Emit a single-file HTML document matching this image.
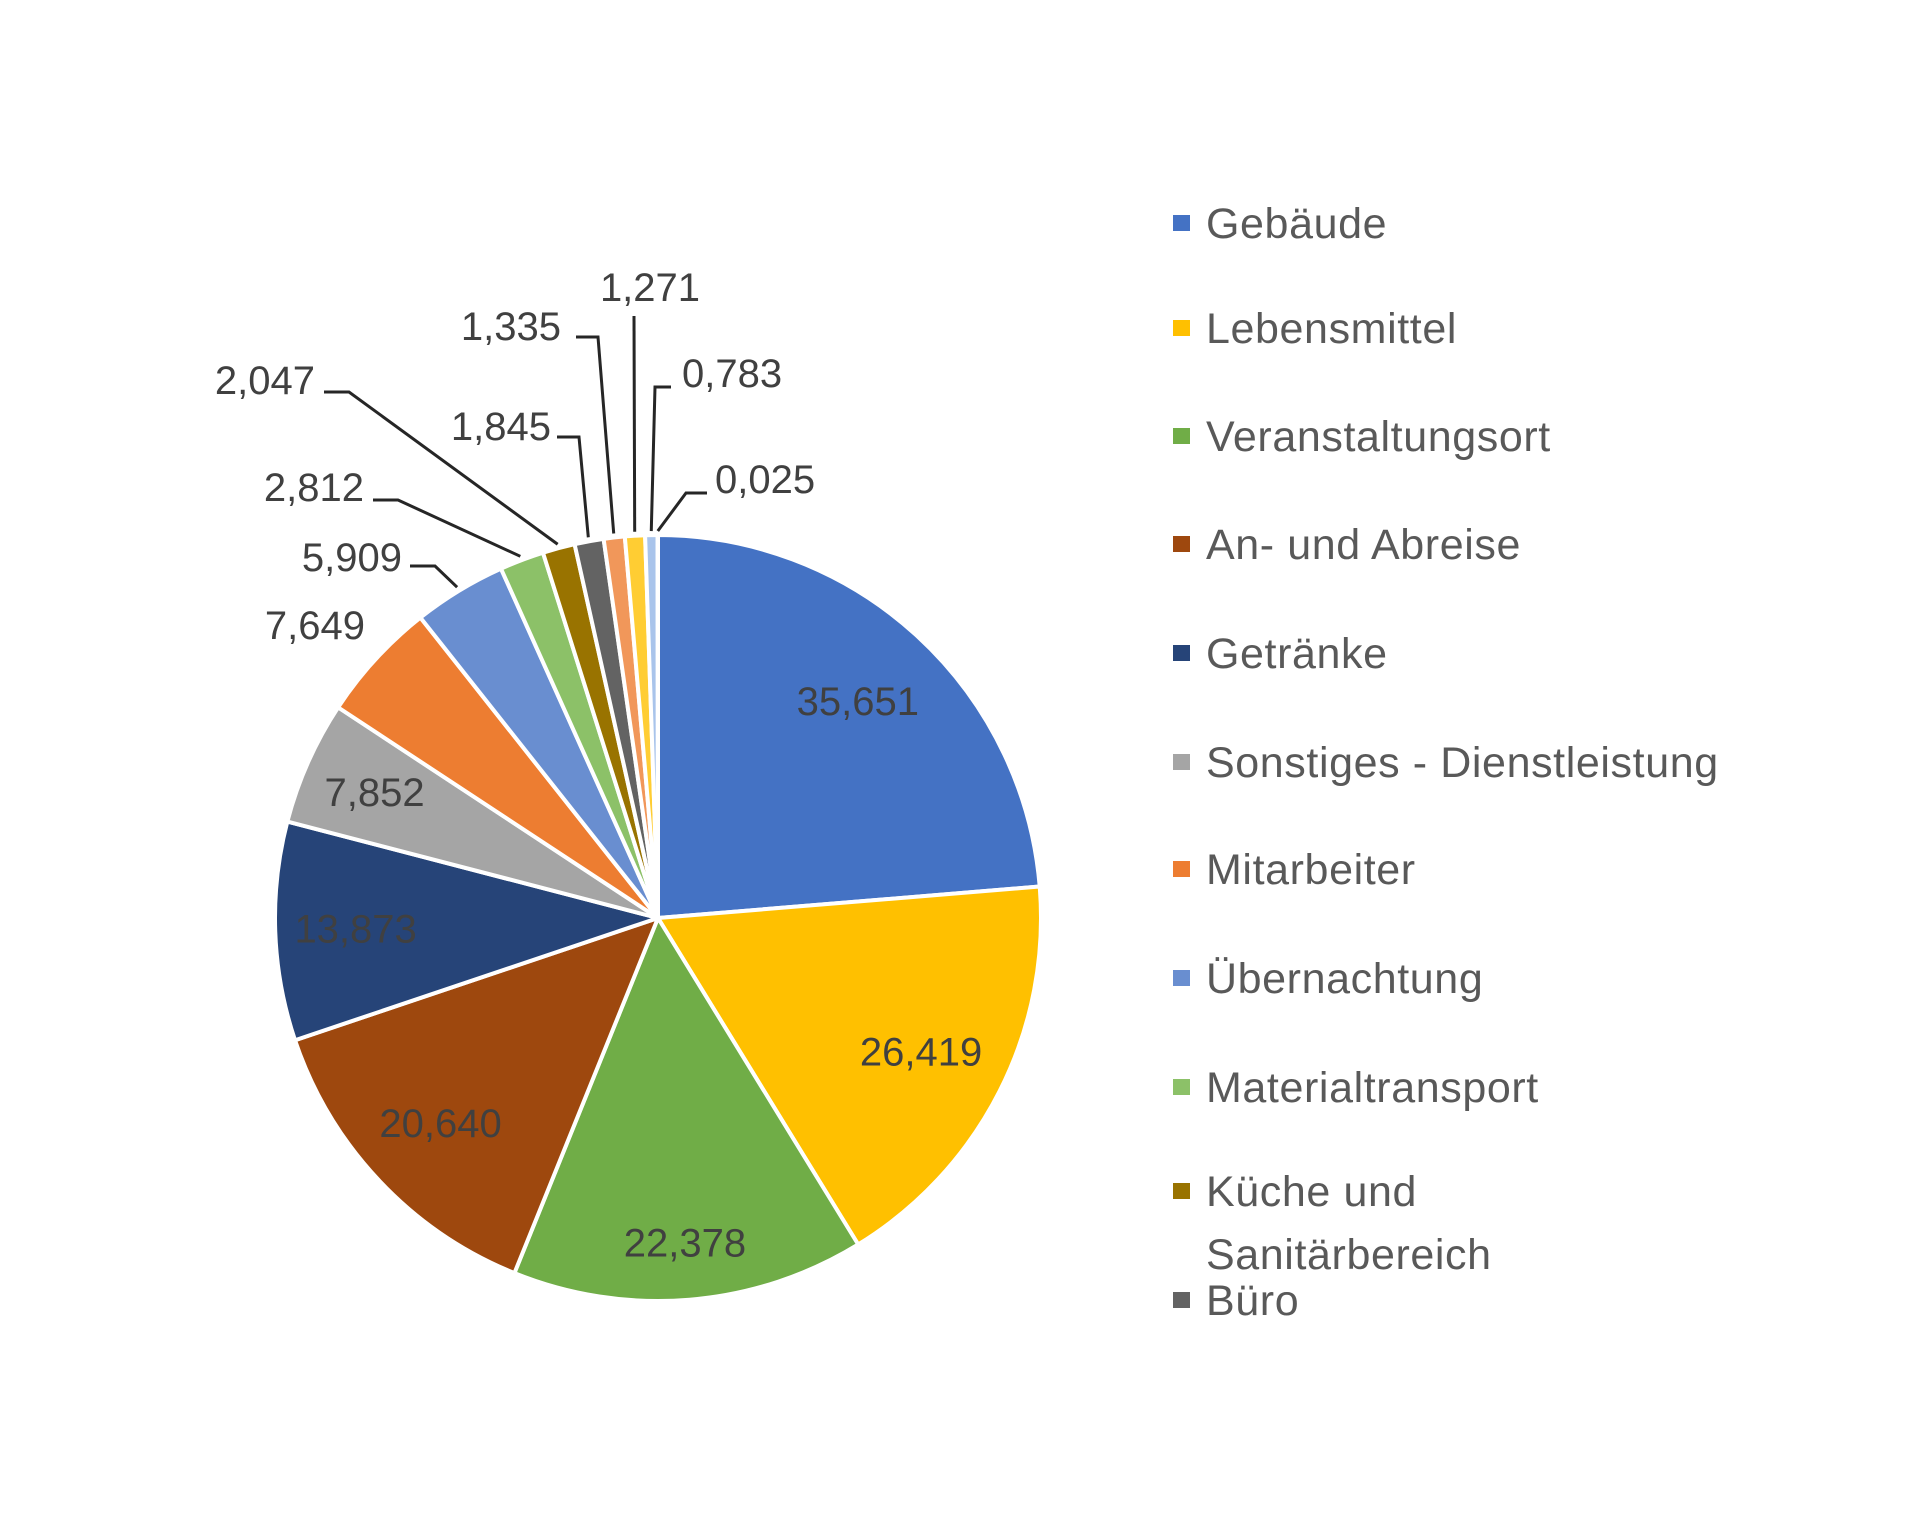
<!DOCTYPE html>
<html><head><meta charset="utf-8"><style>
html,body{margin:0;padding:0;background:#fff}
svg{display:block}
text{font-family:"Liberation Sans",sans-serif}
</style></head><body>
<svg id="chart" width="1920" height="1524" viewBox="0 0 1920 1524" xmlns="http://www.w3.org/2000/svg">
<rect width="1920" height="1524" fill="#fff"/>
<g id="slices"></g>
<g id="labels"></g>
<g id="legend"></g>
</svg>
<script>
const categories = ["Gebäude","Lebensmittel","Veranstaltungsort","An- und Abreise","Getränke","Sonstiges - Dienstleistung","Mitarbeiter","Übernachtung","Materialtransport","Küche und Sanitärbereich","Büro","Sonstiges A","Sonstiges B","Sonstiges C","Sonstiges D"];
const values = [35.651,26.419,22.378,20.640,13.873,7.852,7.649,5.909,2.812,2.047,1.845,1.335,1.271,0.783,0.025];
const valueLabels = ["35,651","26,419","22,378","20,640","13,873","7,852","7,649","5,909","2,812","2,047","1,845","1,335","1,271","0,783","0,025"];
const colors = ["#4472C4","#FFC000","#70AD47","#9E480E","#264478","#A5A5A5","#ED7D31","#698ED0","#8CC168","#997300","#636363","#F1975A","#FFCD33","#A9C4EB","#7CAFDD"];
const legendCount = 11;

const NS="http://www.w3.org/2000/svg";
const cx=658, cy=918, r=383;
const total=values.reduce((a,b)=>a+b,0);
function angleOf(v){return v/total*Math.PI*2;}
function pt(a,rad){return [cx+rad*Math.sin(a), cy-rad*Math.cos(a)];}

const gS=document.getElementById('slices');
const gL=document.getElementById('labels');
const gLeg=document.getElementById('legend');
let a0=0;
const mids=[];
values.forEach((v,i)=>{
  const a1=a0+angleOf(v);
  const p0=pt(a0,r), p1=pt(a1,r);
  const large=(a1-a0)>Math.PI?1:0;
  const p=document.createElementNS(NS,'path');
  p.setAttribute('d',`M${cx},${cy} L${p0[0]},${p0[1]} A${r},${r} 0 ${large} 1 ${p1[0]},${p1[1]} Z`);
  p.setAttribute('fill',colors[i]);
  p.setAttribute('stroke','#fff');
  p.setAttribute('stroke-width','4');
  p.setAttribute('stroke-linejoin','round');
  
  
  gS.appendChild(p);
  mids.push((a0+a1)/2);
  a0=a1;
});

const insideFrac=[0.77,0.77,0.85,0.78,0.79,0.81];
for(let i=0;i<6;i++){
  const q=pt(mids[i],r*insideFrac[i]);
  const t=document.createElementNS(NS,'text');
  t.setAttribute('x',q[0]); t.setAttribute('y',q[1]+14);
  t.setAttribute('text-anchor','middle');
  t.setAttribute('font-size','40');
  t.setAttribute('fill','#404040');
  t.textContent=valueLabels[i];
  
  
  gL.appendChild(t);
}

const outside=[
 {i:6, x:365,y:639,anchor:'end', line:null},
 {i:7, x:402,y:571,anchor:'end', line:[[410,566],[435,566]]},
 {i:8, x:364,y:501,anchor:'end', line:[[373,500],[398,500]]},
 {i:9, x:315,y:394,anchor:'end', line:[[324,392],[349,392]]},
 {i:10,x:551,y:440,anchor:'end', line:[[557,437],[579,437]]},
 {i:11,x:561,y:340,anchor:'end', line:[[576,337],[598,337]]},
 {i:12,x:650,y:301,anchor:'middle', line:[[634,316]]},
 {i:13,x:682,y:387,anchor:'start', line:[[671,387],[655,387]]},
 {i:14,x:715,y:493,anchor:'start', line:[[707,493],[686,493]]}
];
outside.forEach(o=>{
  const t=document.createElementNS(NS,'text');
  t.setAttribute('x',o.x); t.setAttribute('y',o.y);
  t.setAttribute('text-anchor',o.anchor);
  t.setAttribute('font-size','40');
  t.setAttribute('fill','#404040');
  t.textContent=valueLabels[o.i];
  
  
  gL.appendChild(t);
  if(o.line){
    const end=pt(mids[o.i],r+4);
    const pts=o.line.concat([end]).map(p=>p.join(',')).join(' ');
    const pl=document.createElementNS(NS,'polyline');
    pl.setAttribute('points',pts);
    pl.setAttribute('fill','none');
    pl.setAttribute('stroke','#262626');
    pl.setAttribute('stroke-width','3');
    
    
    gL.appendChild(pl);
  }
});

const legY=[223,328,436,544,653,762,869,978,1087,1191,1300];
for(let i=0;i<legendCount;i++){
  const y=legY[i];
  const sq=document.createElementNS(NS,'rect');
  sq.setAttribute('x',1173); sq.setAttribute('y',y-8);
  sq.setAttribute('width',17); sq.setAttribute('height',16);
  sq.setAttribute('fill',colors[i]);
  
  
  gLeg.appendChild(sq);
  const lines = i===9 ? ["Küche und","Sanitärbereich"] : [categories[i]];
  lines.forEach((s,k)=>{
    const t=document.createElementNS(NS,'text');
    t.setAttribute('x',1206); t.setAttribute('y',y+15+k*63);
    t.setAttribute('font-size','43');
    t.setAttribute('letter-spacing','0.6');
    t.setAttribute('fill','#595959');
    t.textContent=s;
    
    
    gLeg.appendChild(t);
  });
}
</script>
</body></html>
